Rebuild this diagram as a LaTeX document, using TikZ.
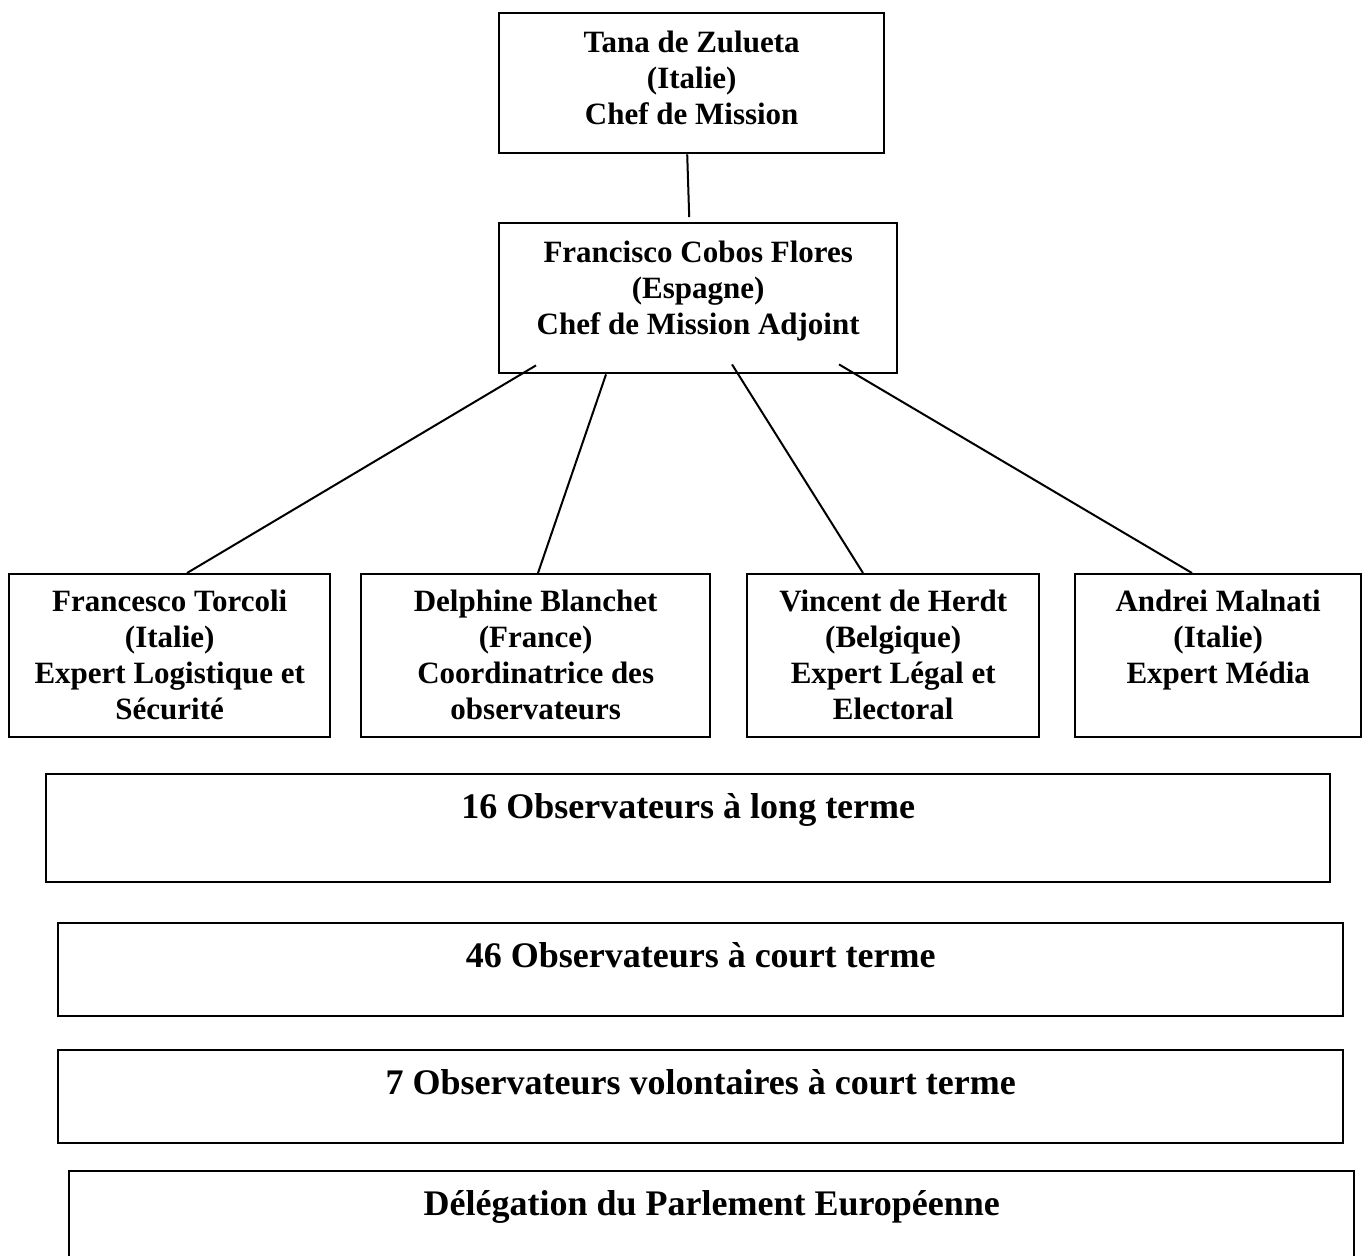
\documentclass[tikz,border=0pt]{standalone}
\usepackage{fontspec}
\setmainfont{Liberation Serif}
\usetikzlibrary{positioning, calc}

\begin{document}
\begin{tikzpicture}[
    x=0.5pt, y=-0.5pt,
    font=\bfseries\fontsize{15.5}{18}\selectfont,
    box/.style={draw, rectangle, line width=1.2pt, inner sep=0pt, anchor=north west},
    boxtext/.style={anchor=base, align=flush center, text width=400pt, inner sep=0pt},
    bartext/.style={boxtext, font=\bfseries\fontsize{18}{21}\selectfont},
    link/.style={line width=1pt}
]
\useasboundingbox (0,0) rectangle (1369,1255);

% Macro for a framed box: name, left, top, right, bottom, baseline below top, text style, text
\newcommand{\orgBox}[8]{
    \node[box, minimum width={(#4-#2)*0.5pt}, minimum height={(#5-#3)*0.5pt}] (#1) at (#2,#3) {};
    \node[#7] (#1-txt) at ($(#1.north)+(0,#6)$) {#8};
}

% ==========================================
% Chef de mission et adjoint
\orgBox{tana}{498}{12}{883}{152}{40}{boxtext}{Tana de Zulueta\\(Italie)\\Chef de Mission}
\orgBox{fcf}{498}{222}{896}{372}{40}{boxtext}{Francisco Cobos Flores\\(Espagne)\\Chef de Mission Adjoint}
\draw[link] ($(tana.south)+(-4.5,0)$) -- ($(fcf.north)+(-9,-5)$);

% ==========================================
% Experts
\orgBox{exp1}{8}{573}{329}{736}{38}{boxtext}{Francesco Torcoli\\(Italie)\\Expert Logistique et\\Sécurité}
\orgBox{exp2}{360}{573}{709}{736}{38}{boxtext}{Delphine Blanchet\\(France)\\Coordinatrice des\\observateurs}
\orgBox{exp3}{746}{573}{1038}{736}{38}{boxtext}{Vincent de Herdt\\(Belgique)\\Expert Légal et\\Electoral}
\orgBox{exp4}{1074}{573}{1360}{736}{38}{boxtext}{Andrei Malnati\\(Italie)\\Expert Média}

\draw[link] ($(fcf.south west)+(38,-9)$) -- ($(exp1.north west)+(179,0)$);
\draw[link] ($(fcf.south west)+(108,0)$) -- ($(exp2.north west)+(178,0)$);
\draw[link] ($(fcf.south west)+(234,-10)$) -- ($(exp3.north west)+(117,0)$);
\draw[link] ($(fcf.south west)+(341,-10)$) -- ($(exp4.north west)+(118,0)$);

% ==========================================
% Observateurs et délégation
\orgBox{olt}{45}{773}{1329}{881}{45}{bartext}{16 Observateurs à long terme}
\orgBox{oct}{57}{922}{1342}{1015}{45}{bartext}{46 Observateurs à court terme}
\orgBox{ovct}{57}{1049}{1342}{1142}{45}{bartext}{7 Observateurs volontaires à court terme}
\orgBox{pe}{68}{1170}{1353}{1265}{45}{bartext}{Délégation du Parlement Européenne}

\end{tikzpicture}
\end{document}
